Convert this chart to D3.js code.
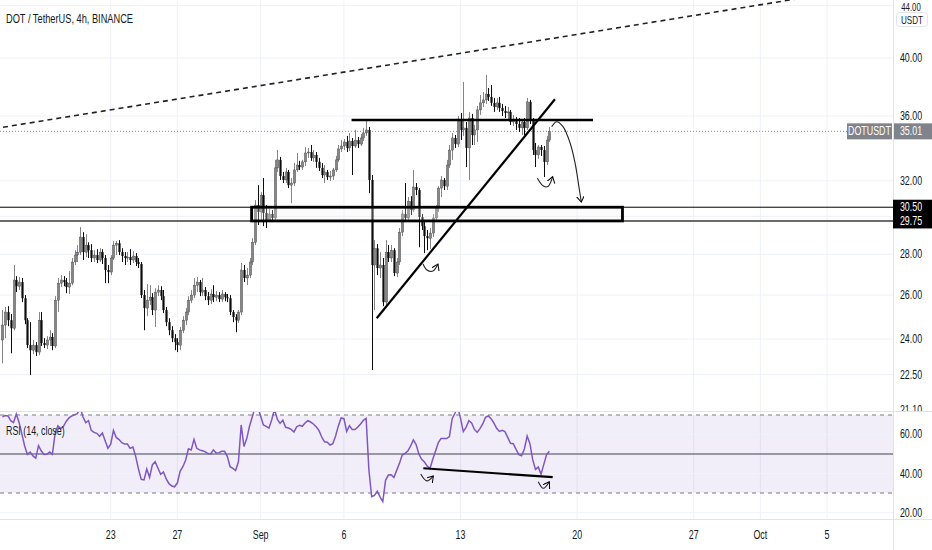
<!DOCTYPE html>
<html>
<head>
<meta charset="utf-8">
<title>DOT / TetherUS, 4h, BINANCE</title>
<script src="https://d3js.org/d3.v7.min.js"></script>
<style>
  body { margin: 0; background: #fff; }
  svg { display: block; font-family: "Liberation Sans", Arial, sans-serif; }
</style>
</head>
<body>
<svg id="chart" width="932" height="550"></svg>
<script>
// 4h candles, first one opens 16 Aug 2021 12:00 UTC
const firstCandle = Date.UTC(2021, 7, 16, 12);
const barHours = 4;

const opens = [
  23.96, 24.62, 25.21, 24.84, 24.48, 26.72, 26.42, 26.62, 25.85, 24.84,
  23.74, 23.52, 23.74, 23.44, 24.84, 23.83, 23.74, 23.96, 24.09, 23.70,
  25.76, 26.57, 26.72, 26.62, 26.38, 26.57, 27.61, 27.96, 28.11, 28.89,
  28.11, 28.47, 28.21, 27.81, 27.96, 27.71, 28.11, 27.81, 27.21, 27.11,
  27.81, 28.47, 28.57, 28.11, 27.91, 27.81, 27.86, 27.71, 27.91, 27.61,
  27.51, 26.00, 25.39, 25.76, 25.90, 25.30, 26.14, 26.24, 25.95, 25.30,
  24.75, 24.39, 24.04, 23.87, 23.74, 24.39, 24.84, 25.21, 25.76, 26.00,
  26.47, 26.62, 26.14, 26.24, 25.95, 25.76, 26.05, 25.90, 26.00, 25.81,
  26.05, 25.90, 25.85, 25.21, 24.98, 24.84, 25.21, 27.21, 26.82, 26.96,
  27.61, 28.62, 30.62, 30.24, 31.18, 30.18, 29.80, 30.13, 29.91, 32.76,
  33.24, 32.28, 32.05, 32.52, 31.75, 31.87, 32.64, 32.93, 32.81, 33.12,
  33.66, 33.72, 33.36, 33.54, 33.12, 32.76, 32.34, 32.52, 32.22, 32.28,
  32.64, 33.24, 33.91, 34.09, 34.34, 33.97, 34.40, 34.09, 34.46, 34.21,
  34.59, 34.91, 35.10, 32.05, 27.46, 28.31, 27.31, 27.46, 25.67, 28.11,
  27.81, 28.21, 27.06, 27.61, 29.15, 30.13, 29.91, 30.84, 30.35, 31.64,
  31.47, 29.96, 29.47, 28.94, 28.83, 29.10, 29.91, 30.46, 31.58, 32.05,
  31.69, 32.93, 33.84, 34.59, 34.21, 35.80, 35.10, 35.23, 33.97, 35.87,
  34.78, 35.10, 36.40, 36.87, 37.07, 37.47, 37.27, 36.87, 36.60, 36.87,
  36.53, 36.33, 36.20, 36.27, 35.61, 35.74, 35.48, 35.23, 35.61, 35.23,
  36.94, 35.74, 33.84, 33.54, 34.03, 33.84, 33.12, 34.46
];
const highs = [
  25.30, 25.44, 25.48, 25.12, 27.46, 26.91, 26.86, 26.82, 26.00, 24.93,
  24.75, 23.96, 23.87, 25.21, 25.21, 24.04, 24.13, 24.39, 24.26, 25.95,
  26.82, 26.96, 26.91, 26.82, 27.16, 27.81, 28.21, 28.47, 29.42, 29.15,
  29.04, 28.62, 28.52, 28.21, 28.26, 28.31, 28.26, 27.96, 27.46, 27.96,
  28.68, 28.68, 28.73, 28.31, 28.11, 28.11, 28.26, 28.16, 28.06, 27.81,
  27.61, 26.24, 26.52, 26.47, 26.09, 26.33, 26.47, 26.42, 26.24, 25.44,
  24.93, 24.57, 24.22, 24.04, 24.53, 25.02, 25.39, 25.95, 26.24, 26.82,
  26.86, 26.72, 26.82, 26.38, 26.14, 26.28, 26.47, 26.19, 26.14, 26.24,
  26.14, 26.05, 26.00, 25.30, 25.11, 25.30, 27.56, 27.46, 27.31, 27.81,
  28.83, 30.90, 31.75, 31.35, 32.16, 30.62, 30.40, 30.35, 33.24, 33.84,
  33.42, 32.52, 32.76, 32.64, 32.16, 33.05, 33.66, 33.18, 33.24, 34.03,
  33.97, 34.15, 33.84, 33.72, 33.36, 33.05, 32.93, 32.64, 32.58, 32.76,
  33.48, 34.15, 34.46, 34.53, 34.72, 34.91, 34.59, 35.10, 34.65, 34.84,
  35.23, 35.74, 35.29, 32.34, 28.73, 28.52, 28.11, 27.81, 28.73, 28.47,
  28.47, 28.31, 27.81, 29.37, 30.35, 31.87, 31.07, 31.12, 32.64, 31.87,
  31.58, 30.13, 29.69, 29.26, 29.37, 30.13, 30.62, 31.69, 32.28, 32.16,
  33.24, 34.15, 34.91, 34.78, 36.00, 36.20, 38.30, 35.61, 36.27, 36.14,
  35.42, 36.67, 37.40, 37.61, 38.79, 37.88, 38.09, 37.20, 37.20, 37.27,
  36.80, 36.67, 36.60, 36.40, 36.07, 35.93, 35.87, 35.80, 35.87, 37.20,
  37.07, 35.87, 34.28, 34.15, 34.15, 34.09, 34.72, 35.29
];
const lows = [
  22.97, 24.04, 24.57, 23.39, 24.39, 26.14, 26.24, 25.67, 24.66, 23.61,
  22.48, 23.35, 23.27, 23.31, 23.70, 23.61, 23.57, 23.70, 23.52, 23.61,
  25.21, 26.38, 26.42, 26.09, 26.05, 26.47, 27.46, 27.61, 27.96, 27.71,
  27.86, 27.81, 27.61, 27.61, 27.56, 27.61, 27.51, 26.57, 26.57, 26.96,
  27.71, 27.96, 27.96, 27.61, 27.46, 27.61, 27.46, 27.56, 27.41, 27.31,
  25.86, 24.39, 25.02, 25.53, 25.07, 24.53, 25.95, 25.76, 25.16, 24.57,
  24.17, 23.87, 23.52, 23.44, 23.52, 24.26, 24.62, 25.07, 25.62, 25.86,
  26.14, 25.95, 25.95, 25.76, 25.53, 25.58, 25.67, 25.71, 25.67, 25.67,
  25.71, 25.67, 25.07, 24.75, 24.30, 24.71, 25.07, 26.62, 26.47, 26.82,
  27.46, 28.47, 29.53, 29.80, 29.47, 29.37, 29.69, 29.69, 29.69, 32.52,
  32.05, 31.87, 31.87, 31.58, 30.73, 31.69, 32.52, 32.64, 32.64, 32.87,
  33.36, 33.18, 33.12, 32.76, 32.58, 32.16, 31.87, 32.05, 31.99, 32.05,
  32.52, 33.12, 33.72, 33.84, 33.72, 33.78, 32.34, 33.97, 33.97, 34.09,
  34.40, 34.72, 31.29, 22.69, 25.30, 26.96, 26.82, 25.48, 25.53, 27.61,
  27.61, 26.91, 26.86, 27.46, 28.94, 29.69, 29.69, 30.07, 30.24, 31.18,
  28.36, 29.26, 28.06, 28.21, 28.26, 28.89, 29.80, 30.24, 31.07, 31.47,
  31.47, 32.76, 33.24, 33.97, 34.03, 34.46, 34.72, 32.81, 32.05, 34.15,
  34.15, 34.34, 36.07, 36.60, 36.80, 37.00, 36.67, 36.27, 36.40, 36.27,
  36.00, 35.87, 35.74, 35.42, 35.35, 35.10, 34.97, 34.78, 34.78, 35.10,
  35.48, 33.54, 32.81, 33.30, 33.48, 32.22, 32.93, 34.34
];
const closes = [
  24.62, 25.21, 24.84, 24.48, 26.72, 26.42, 26.62, 25.85, 24.84, 23.74,
  23.52, 23.74, 23.44, 24.84, 23.83, 23.74, 23.96, 24.09, 23.70, 25.76,
  26.57, 26.72, 26.62, 26.38, 26.57, 27.61, 27.96, 28.11, 28.89, 28.11,
  28.47, 28.21, 27.81, 27.96, 27.71, 28.11, 27.81, 27.21, 27.11, 27.81,
  28.47, 28.57, 28.11, 27.91, 27.81, 27.86, 27.71, 27.91, 27.61, 27.51,
  26.00, 25.39, 25.76, 25.90, 25.30, 26.14, 26.24, 25.95, 25.30, 24.75,
  24.39, 24.04, 23.87, 23.74, 24.39, 24.84, 25.21, 25.76, 26.00, 26.47,
  26.62, 26.14, 26.24, 25.95, 25.76, 26.05, 25.90, 26.00, 25.81, 26.05,
  25.90, 25.85, 25.21, 24.98, 24.84, 25.21, 27.21, 26.82, 26.96, 27.61,
  28.62, 30.62, 30.24, 31.18, 30.18, 29.80, 30.13, 29.91, 32.76, 33.24,
  32.28, 32.05, 32.52, 31.75, 31.87, 32.64, 32.93, 32.81, 33.12, 33.66,
  33.72, 33.36, 33.54, 33.12, 32.76, 32.34, 32.52, 32.22, 32.28, 32.64,
  33.24, 33.91, 34.09, 34.34, 33.97, 34.40, 34.09, 34.46, 34.21, 34.59,
  34.91, 35.10, 32.05, 27.46, 28.31, 27.31, 27.46, 25.67, 28.11, 27.81,
  28.21, 27.06, 27.61, 29.15, 30.13, 29.91, 30.84, 30.35, 31.64, 31.47,
  29.96, 29.47, 28.94, 28.83, 29.10, 29.91, 30.46, 31.58, 32.05, 31.69,
  32.93, 33.84, 34.59, 34.21, 35.80, 35.10, 35.23, 33.97, 35.87, 34.78,
  35.10, 36.40, 36.87, 37.07, 37.47, 37.27, 36.87, 36.60, 36.87, 36.53,
  36.33, 36.20, 36.27, 35.61, 35.74, 35.48, 35.23, 35.61, 35.23, 36.94,
  35.74, 33.84, 33.54, 34.03, 33.84, 33.12, 34.46, 35.01
];
const rsi = [
  69.0, 69.7, 69.5, 67.1, 66.1, 70.5, 66.2, 60.3, 54.1, 49.8,
  51.0, 49.0, 47.9, 54.3, 51.5, 49.7, 49.8, 51.0, 49.8, 60.8,
  64.4, 63.0, 64.2, 66.8, 68.5, 69.5, 70.2, 70.7, 74.0, 69.1,
  66.1, 67.1, 62.1, 61.1, 60.6, 59.1, 60.8, 56.8, 52.9, 55.0,
  62.1, 58.5, 57.4, 55.8, 55.1, 55.1, 52.9, 53.6, 48.8, 42.3,
  37.0, 36.7, 42.3, 38.0, 44.4, 46.1, 42.8, 39.6, 40.8, 37.2,
  34.8, 33.6, 33.2, 35.1, 41.1, 43.5, 46.9, 52.7, 52.1, 57.5,
  52.9, 52.1, 51.7, 51.2, 50.2, 50.0, 52.1, 50.5, 50.7, 51.4,
  51.4, 48.8, 43.5, 42.6, 41.5, 46.0, 64.9, 53.9, 57.9, 64.2,
  69.1, 74.0, 74.0, 69.5, 64.9, 64.2, 63.3, 67.6, 73.0, 67.8,
  65.7, 67.3, 63.7, 63.3, 62.6, 61.3, 64.0, 64.7, 64.2, 65.9,
  67.1, 66.4, 65.4, 64.0, 62.1, 58.7, 56.3, 56.0, 54.6, 55.3,
  59.2, 64.4, 68.5, 68.1, 61.6, 64.5, 62.5, 62.5, 63.8, 65.4,
  67.3, 68.3, 41.8, 28.1, 28.8, 30.9, 28.0, 25.6, 36.5, 39.2,
  39.4, 38.0, 41.6, 45.2, 49.5, 50.3, 51.5, 54.0, 57.2, 54.8,
  50.0, 47.3, 45.9, 43.8, 42.6, 47.3, 51.5, 55.8, 58.0, 58.0,
  57.9, 58.9, 68.1, 70.9, 74.0, 68.3, 61.5, 63.7, 67.1, 65.9,
  62.6, 61.1, 63.0, 65.4, 68.8, 69.5, 68.1, 65.9, 63.2, 61.6,
  62.1, 61.5, 58.5, 55.5, 55.3, 52.4, 49.7, 49.1, 52.6, 59.2,
  55.3, 47.1, 42.1, 43.3, 39.7, 44.7, 49.7, 51.4
];

const priceGrid = [44, 40, 36, 32, 30, 28, 26, 24, 22.5];
const priceLabels = [44, 40, 36, 32, 28, 26, 24, 22.5, 21.1];
const rsiTicks = [60, 40, 20];
const rsiBands = [70, 50, 30];
const timeTicks = [
  ["2021-08-23", "23"], ["2021-08-27", "27"], ["2021-09-01", "Sep"],
  ["2021-09-06", "6"], ["2021-09-13", "13"], ["2021-09-20", "20"],
  ["2021-09-27", "27"], ["2021-10-01", "Oct"], ["2021-10-05", "5"]
];
const lastPrice = 35.01;
const zoneLevels = [30.50, 29.75];

// drawings on the chart, [time, value]
const dashedTrend = [["2021-08-16T00:00Z", 35.18], ["2021-10-10T00:00Z", 46.05]];
const resistance = [["2021-09-06T11:00Z", 35.74], ["2021-09-20T22:50Z", 35.74]];
const zoneBox = [["2021-08-31T11:00Z", 30.50], ["2021-09-22T17:20Z", 29.75]];
const riseTrend = [["2021-09-07T23:15Z", 24.93], ["2021-09-18T16:00Z", 37.11]];
const rsiTrend = [["2021-09-10T18:25Z", 42.7], ["2021-09-18T12:45Z", 38.1]];
const dropArrow = [
  ["2021-09-18T11:20Z", 35.31], ["2021-09-18T18:35Z", 35.63], ["2021-09-19T03:40Z", 35.31],
  ["2021-09-19T13:45Z", 34.29], ["2021-09-19T21:00Z", 33.06], ["2021-09-20T02:40Z", 31.64],
  ["2021-09-20T06:00Z", 30.79]
];
const priceHooks = [
  [["2021-09-10T18:00Z", 27.51], ["2021-09-10T23:40Z", 27.21], ["2021-09-11T08:20Z", 27.16], ["2021-09-11T15:30Z", 27.51]],
  [["2021-09-17T14:40Z", 32.15], ["2021-09-17T23:20Z", 31.70], ["2021-09-18T06:00Z", 31.67], ["2021-09-18T12:45Z", 32.24]]
];
const rsiHooks = [
  [["2021-09-10T14:40Z", 39.7], ["2021-09-10T23:20Z", 36.2], ["2021-09-11T08:50Z", 38.7]],
  [["2021-09-17T16:00Z", 35.8], ["2021-09-17T23:20Z", 32.4], ["2021-09-18T08:00Z", 35.8]]
];

// ---- layout ----
const W = 932, H = 550;
const plotR = 893;       // price scale starts here
const mainB = 411;       // bottom of price pane
const rsiT = 412, rsiB = 519;
const squeeze = 0.74;    // the screenshot's text is narrow

const x = d3.scaleUtc()
  .domain([new Date("2021-08-23T00:00Z"), new Date("2021-10-05T00:00Z")])
  .range([110.7, 827]);
const y = d3.scaleLog().domain([21.06, 44.45]).range([mainB, 0]);
const yr = d3.scaleLinear().domain([16.67, 72.05]).range([rsiB, rsiT - 1]);

const candles = closes.map((c, i) => ({
  t: new Date(firstCandle + i * barHours * 3600e3),
  o: opens[i], h: highs[i], l: lows[i], c, r: rsi[i]
}));

const svg = d3.select("#chart");
const textColor = "#131722";
const gridColor = "#eef1f7";
const borderColor = "#e0e3eb";
const upColor = "#858585", downColor = "#0d0d0d";

// narrow text placed with a transform
function label(sel, fx, fy, size, color, anchor) {
  return sel
    .attr("transform", (d, i) => `translate(${fx(d, i)},${fy(d, i)}) scale(${squeeze},1)`)
    .attr("text-anchor", anchor || "middle")
    .attr("font-size", size)
    .attr("fill", color);
}

const defs = svg.append("defs");
defs.append("clipPath").attr("id", "clipMain")
  .append("rect").attr("x", 0).attr("y", 0).attr("width", plotR).attr("height", mainB);
defs.append("clipPath").attr("id", "clipRsi")
  .append("rect").attr("x", 0).attr("y", rsiT).attr("width", plotR).attr("height", rsiB - rsiT);
defs.append("clipPath").attr("id", "clipAxis")
  .append("rect").attr("x", plotR).attr("y", 0).attr("width", W - plotR).attr("height", mainB);
defs.append("clipPath").attr("id", "clipRsiAxis")
  .append("rect").attr("x", plotR).attr("y", rsiT).attr("width", W - plotR).attr("height", rsiB - rsiT);
defs.append("marker").attr("id", "arrowHead")
  .attr("markerUnits", "userSpaceOnUse").attr("markerWidth", 10).attr("markerHeight", 10)
  .attr("refX", 6).attr("refY", 4).attr("orient", "auto")
  .append("path").attr("d", "M0,0 L6,4 L0,8")
  .attr("fill", "none").attr("stroke", "#000").attr("stroke-width", 1);

svg.append("rect").attr("width", W).attr("height", H).attr("fill", "#fff");

// ---- main pane ----
const main = svg.append("g").attr("clip-path", "url(#clipMain)");

main.selectAll(".vgrid").data(timeTicks).join("line")
  .attr("x1", d => x(new Date(d[0] + "T00:00Z"))).attr("x2", d => x(new Date(d[0] + "T00:00Z")))
  .attr("y1", 0).attr("y2", mainB)
  .attr("stroke", gridColor);
main.selectAll(".hgrid").data(priceGrid).join("line")
  .attr("x1", 0).attr("x2", plotR)
  .attr("y1", d => y(d)).attr("y2", d => y(d))
  .attr("stroke", gridColor);

// last price dotted line
main.append("line")
  .attr("x1", 0).attr("x2", plotR)
  .attr("y1", y(lastPrice)).attr("y2", y(lastPrice))
  .attr("stroke", "#8a8d96").attr("stroke-dasharray", "1,2");

// horizontal levels of the zone
main.selectAll(".zone").data(zoneLevels).join("line")
  .attr("x1", 0).attr("x2", plotR)
  .attr("y1", d => y(d)).attr("y2", d => y(d))
  .attr("stroke", (d, i) => i ? "#3a3a3a" : "#000")
  .attr("stroke-width", (d, i) => i ? 1.6 : 1);

// candles
const bw = 2.2;
const cg = main.append("g");
cg.selectAll("line").data(candles).join("line")
  .attr("x1", d => Math.round(x(d.t)) + 0.5).attr("x2", d => Math.round(x(d.t)) + 0.5)
  .attr("y1", d => y(d.h)).attr("y2", d => y(d.l))
  .attr("stroke", d => d.c >= d.o ? upColor : downColor)
  .attr("stroke-width", 1);
cg.selectAll("rect").data(candles).join("rect")
  .attr("x", d => Math.round(x(d.t)) + 0.5 - bw / 2)
  .attr("width", bw)
  .attr("y", d => y(Math.max(d.o, d.c)))
  .attr("height", d => Math.max(1, y(Math.min(d.o, d.c)) - y(Math.max(d.o, d.c))))
  .attr("fill", d => d.c >= d.o ? upColor : downColor)
  .attr("stroke", d => d.c >= d.o ? "#3c3c3c" : "none")
  .attr("stroke-width", 0.4);

// drawings
const pt = d => [x(new Date(d[0])), y(d[1])];
const ptr = d => [x(new Date(d[0])), yr(d[1])];

main.append("path")
  .attr("d", d3.line()(dashedTrend.map(pt)))
  .attr("fill", "none").attr("stroke", "#222").attr("stroke-width", 1.6)
  .attr("stroke-dasharray", "5,4");

main.append("path")
  .attr("d", d3.line()(resistance.map(pt)))
  .attr("fill", "none").attr("stroke", "#000").attr("stroke-width", 2.4);

main.append("rect")
  .attr("x", x(new Date(zoneBox[0][0])))
  .attr("y", y(zoneBox[0][1]))
  .attr("width", x(new Date(zoneBox[1][0])) - x(new Date(zoneBox[0][0])))
  .attr("height", y(zoneBox[1][1]) - y(zoneBox[0][1]))
  .attr("fill", "rgba(240,240,240,0.25)").attr("stroke", "#000").attr("stroke-width", 2.8);

main.append("path")
  .attr("d", d3.line()(riseTrend.map(pt)))
  .attr("fill", "none").attr("stroke", "#000").attr("stroke-width", 2.2);

const curve = d3.line().curve(d3.curveCatmullRom);
main.append("path")
  .attr("d", curve(dropArrow.map(pt)))
  .attr("fill", "none").attr("stroke", "#222").attr("stroke-width", 1.1)
  .attr("marker-end", "url(#arrowHead)");
main.selectAll(".hook").data(priceHooks).join("path")
  .attr("d", d => curve(d.map(pt)))
  .attr("fill", "none").attr("stroke", "#222").attr("stroke-width", 1.1)
  .attr("marker-end", "url(#arrowHead)");

// title
label(svg.append("text"), () => 6, () => 23, 12.5, textColor, "start")
  .text("DOT / TetherUS, 4h, BINANCE");

// ---- RSI pane ----
const rp = svg.append("g").attr("clip-path", "url(#clipRsi)");
rp.selectAll(".vgrid").data(timeTicks).join("line")
  .attr("x1", d => x(new Date(d[0] + "T00:00Z"))).attr("x2", d => x(new Date(d[0] + "T00:00Z")))
  .attr("y1", rsiT).attr("y2", rsiB)
  .attr("stroke", gridColor);
rp.append("rect")
  .attr("x", 0).attr("width", plotR)
  .attr("y", yr(rsiBands[0])).attr("height", yr(rsiBands[2]) - yr(rsiBands[0]))
  .attr("fill", "rgba(126,87,194,0.1)");
rp.selectAll(".rgrid").data(rsiTicks).join("line")
  .attr("x1", 0).attr("x2", plotR)
  .attr("y1", d => yr(d)).attr("y2", d => yr(d))
  .attr("stroke", "rgba(240,243,250,0.9)");
rp.selectAll(".band").data(rsiBands).join("line")
  .attr("x1", 0).attr("x2", plotR)
  .attr("y1", d => yr(d)).attr("y2", d => yr(d))
  .attr("stroke", "#787b86")
  .attr("stroke-width", d => d === 50 ? 1.6 : 1)
  .attr("stroke-dasharray", d => d === 50 ? null : "4,4");
rp.append("path")
  .datum(candles)
  .attr("d", d3.line().x(d => x(d.t)).y(d => yr(d.r)))
  .attr("fill", "none").attr("stroke", "#7e57c2").attr("stroke-width", 1.5);
rp.append("path")
  .attr("d", d3.line()(rsiTrend.map(ptr)))
  .attr("fill", "none").attr("stroke", "#000").attr("stroke-width", 2.2);
rp.selectAll(".hook").data(rsiHooks).join("path")
  .attr("d", d => curve(d.map(ptr)))
  .attr("fill", "none").attr("stroke", "#222").attr("stroke-width", 1.1)
  .attr("marker-end", "url(#arrowHead)");
label(svg.append("text"), () => 6, () => 435, 12, textColor, "start")
  .text("RSI (14, close)");

// ---- borders ----
svg.append("line").attr("x1", 0).attr("x2", W).attr("y1", mainB + 0.5).attr("y2", mainB + 0.5).attr("stroke", borderColor);
svg.append("line").attr("x1", 0).attr("x2", W).attr("y1", rsiB + 0.5).attr("y2", rsiB + 0.5).attr("stroke", borderColor);
svg.append("line").attr("x1", plotR + 0.5).attr("x2", plotR + 0.5).attr("y1", 0).attr("y2", H).attr("stroke", borderColor);

// ---- price scale ----
const fmt = d3.format(".2f");
const ax = svg.append("g").attr("clip-path", "url(#clipAxis)");
label(ax.selectAll("text").data(priceLabels).join("text"),
  () => 911, d => Math.max(10.5, y(d) + 4), d => d === 44 ? 10.5 : 12, textColor)
  .text(d => fmt(d));

const rax = svg.append("g").attr("clip-path", "url(#clipRsiAxis)");
label(rax.selectAll("text").data(rsiTicks).join("text"),
  () => 911, d => yr(d) + 4, 12, textColor)
  .text(d => fmt(d));

// currency badge
svg.append("rect").attr("x", 896.5).attr("y", 12.5).attr("width", 31).attr("height", 14).attr("rx", 3)
  .attr("fill", "#fff").attr("stroke", borderColor);
label(svg.append("text"), () => 912, () => 23.5, 11, textColor).text("USDT");

// last price labels
const yl = y(lastPrice);
svg.append("rect").attr("x", 847).attr("y", yl - 8).attr("width", 45).attr("height", 16)
  .attr("fill", "#80838c");
label(svg.append("text"), () => 869.5, () => yl + 4, 12, "#fff").text("DOTUSDT");
svg.append("rect").attr("x", plotR + 1).attr("y", yl - 8).attr("width", W - plotR - 1).attr("height", 16)
  .attr("fill", "#80838c");
label(svg.append("text"), () => 911, () => yl + 4, 12, "#fff").text(fmt(lastPrice));

// zone level labels
svg.selectAll(".zlab").data(zoneLevels).join("rect")
  .attr("x", plotR).attr("width", W - plotR)
  .attr("y", d => y(d) - 7.5).attr("height", 15)
  .attr("fill", "#000");
label(svg.selectAll(".ztxt").data(zoneLevels).join("text"),
  () => 911, d => y(d) + 4, 12, "#fff")
  .text(d => fmt(d));

// ---- time scale ----
label(svg.selectAll(".ttick").data(timeTicks).join("text"),
  d => x(new Date(d[0] + "T00:00Z")), () => 539, 12, textColor)
  .text(d => d[1]);
</script>
</body>
</html>
